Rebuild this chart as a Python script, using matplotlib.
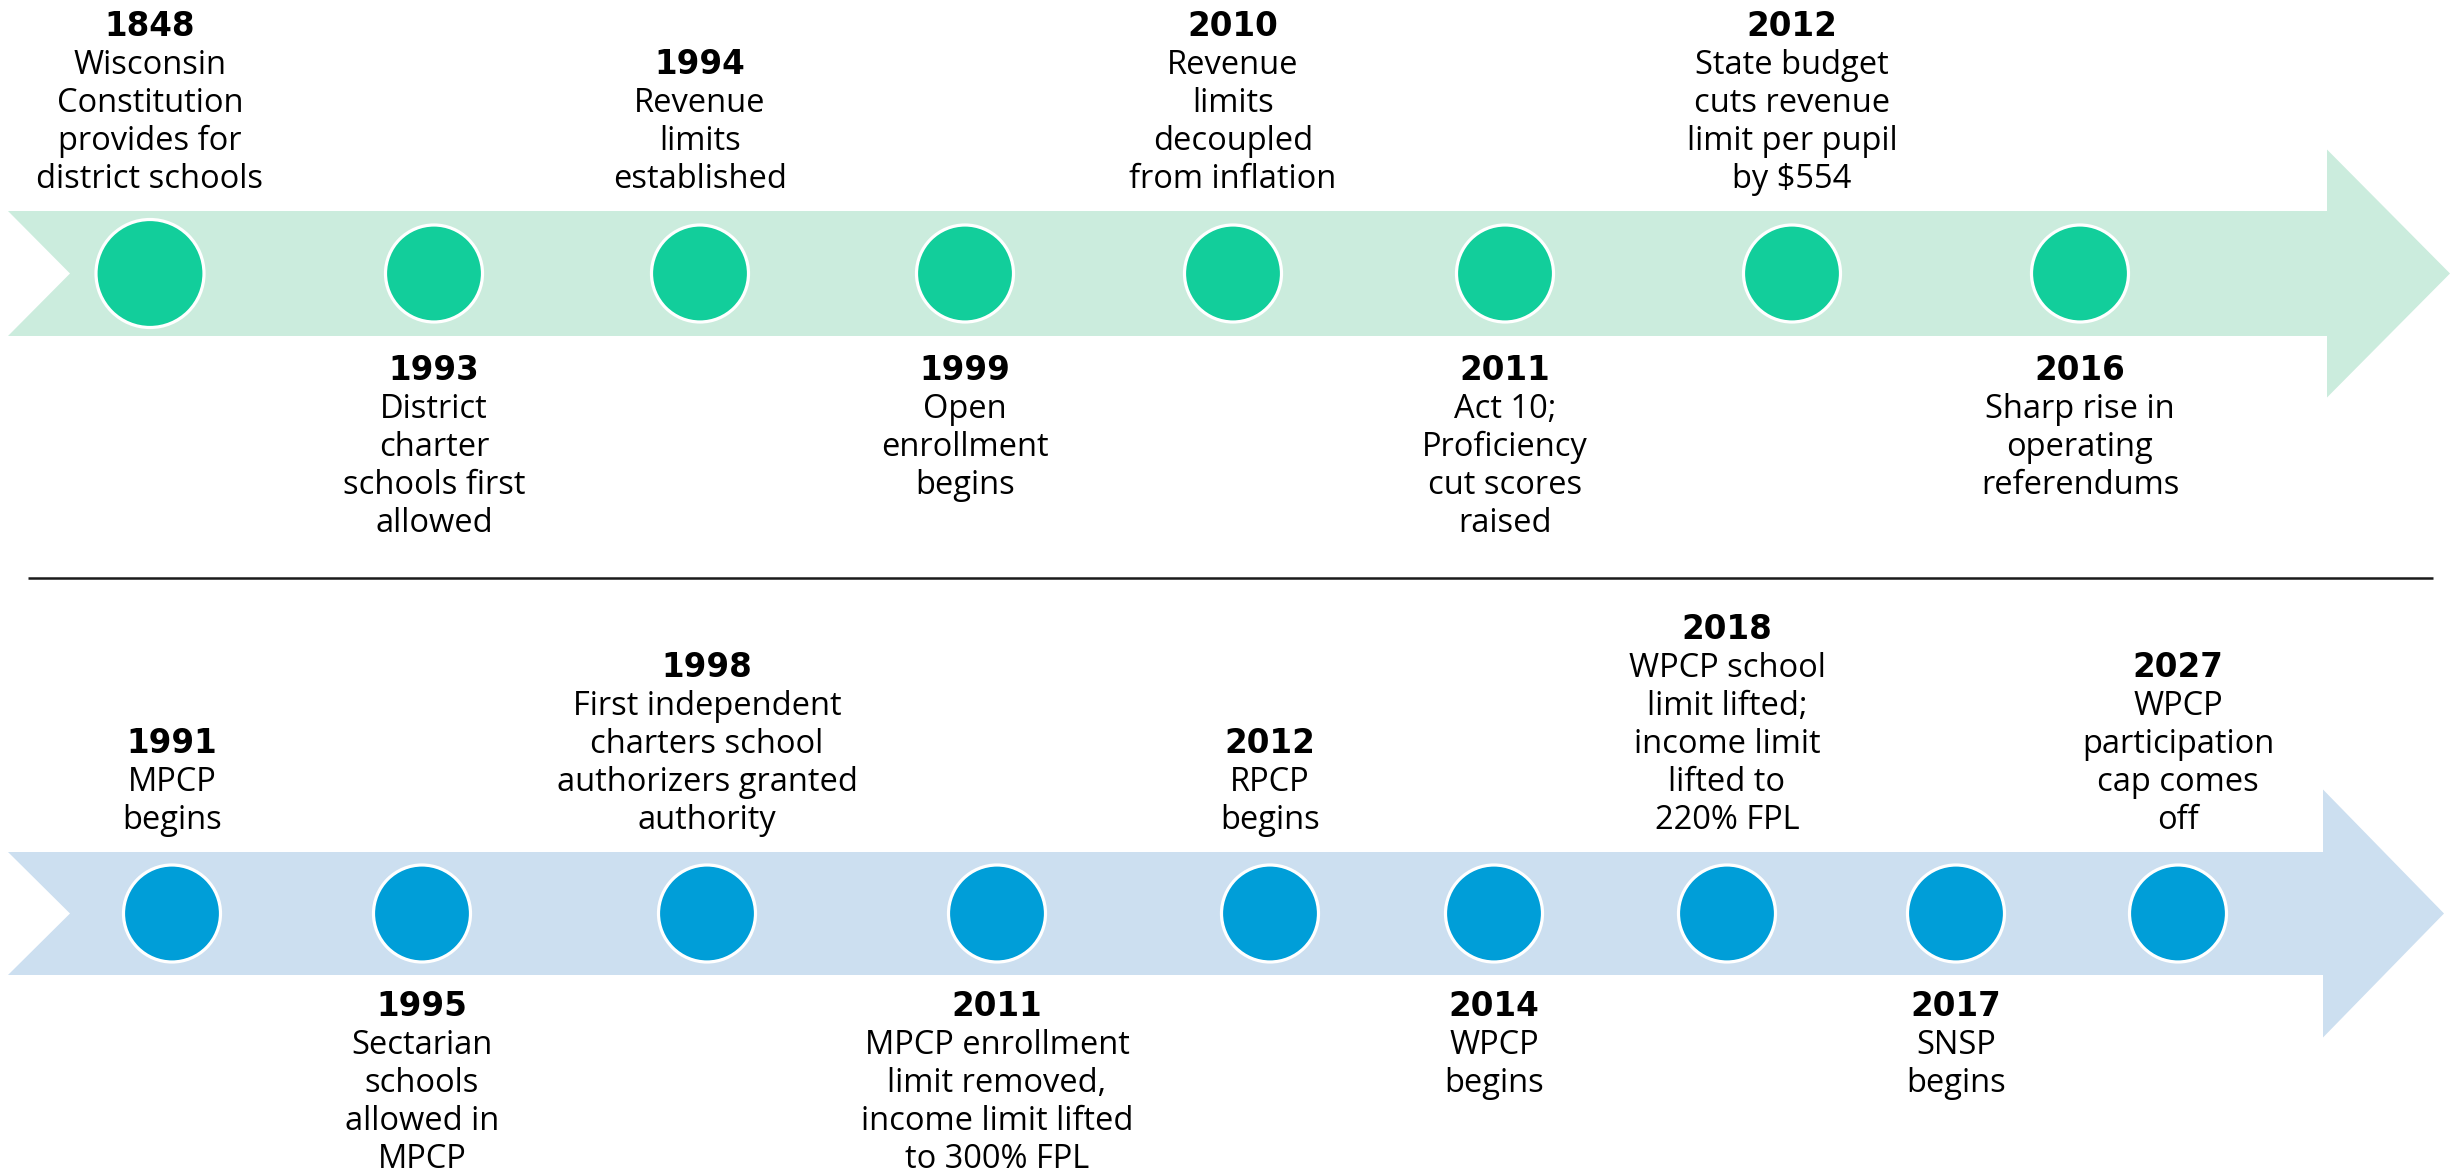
## timeline of Wisconsin school policy (districts on top, choice programs below)
import numpy as np
from matplotlib import pyplot as plt
from matplotlib.patches import Polygon, Circle

## events on the upper (district schools) track, in order along the arrow
top_years = ['1848', '1993', '1994', '1999', '2010', '2011', '2012', '2016']
top_text = ["Wisconsin\nConstitution\nprovides for\ndistrict schools",
            "District\ncharter\nschools first\nallowed",
            "Revenue\nlimits\nestablished",
            "Open\nenrollment\nbegins",
            "Revenue\nlimits\ndecoupled\nfrom inflation",
            "Act 10;\nProficiency\ncut scores\nraised",
            "State budget\ncuts revenue\nlimit per pupil\nby $554",
            "Sharp rise in\noperating\nreferendums"]

## events on the lower (choice / charter) track
bot_years = ['1991', '1995', '1998', '2011', '2012', '2014', '2018', '2017', '2027']
bot_text = ["MPCP\nbegins",
            "Sectarian\nschools\nallowed in\nMPCP",
            "First independent\ncharters school\nauthorizers granted\nauthority",
            "MPCP enrollment\nlimit removed,\nincome limit lifted\nto 300% FPL",
            "RPCP\nbegins",
            "WPCP\nbegins",
            "WPCP school\nlimit lifted;\nincome limit\nlifted to\n220% FPL",
            "SNSP\nbegins",
            "WPCP\nparticipation\ncap comes\noff"]

## layout (pixel units, y going down)
W, H = 2453, 1169
top_x = [150, 434, 700, 965, 1233, 1505, 1792, 2080]
bot_x = [172, 422, 707, 997, 1270, 1494, 1727, 1956, 2178]
line_h = 38

fig = plt.figure(figsize=(W/100, H/100), dpi=100)
ax = fig.add_axes([0, 0, 1, 1])
ax.set_xlim(0, W)
ax.set_ylim(H, 0)
ax.axis('off')

def track(y0, y1, x_head, x_tip, head_h, band_col, dot_col, xs, years, texts, r_first, below_gap):
    yc = (y0+y1)/2
    pts = [(8, y0), (x_head, y0), (x_head, yc-head_h), (x_tip, yc),
           (x_head, yc+head_h), (x_head, y1), (8, y1), (70, yc)]
    ax.add_patch(Polygon(pts, closed=True, fc=band_col, ec='none', zorder=1))
    for i, (x, yr, txt) in enumerate(zip(xs, years, texts)):
        r = r_first if i == 0 else 48.5
        ax.add_patch(Circle((x, yc), r, fc=dot_col, ec='white', lw=2.3, zorder=2))
        lines = [yr] + txt.split('\n')
        if i % 2 == 0:
            ## above the arrow, bottom aligned
            base = y0 - 23 - line_h*(len(lines)-1)
        else:
            base = y1 + below_gap
        for k, s in enumerate(lines):
            if k == 0:
                ax.text(x, base, s, ha='center', va='baseline', fontsize=23.5,
                        fontweight='bold', family=['DejaVu Sans'], color='black')
            else:
                ax.text(x, base + k*line_h, s, ha='center', va='baseline', fontsize=23.5,
                        family=['Open Sans', 'DejaVu Sans'], color='black')

track(211, 336, 2327, 2450, 124, '#cbecdd', '#12ce9b', top_x, top_years, top_text, 54, 44)
track(852, 975, 2323, 2444, 124, '#ccdff0', '#009ed8', bot_x, bot_years, bot_text, 48.5, 41)

## divider between the two tracks
ax.plot([28, 2433], [577.5, 577.5], color='#1a1a1a', lw=1.8, solid_capstyle='butt')

plt.savefig('out.png', dpi=100)
